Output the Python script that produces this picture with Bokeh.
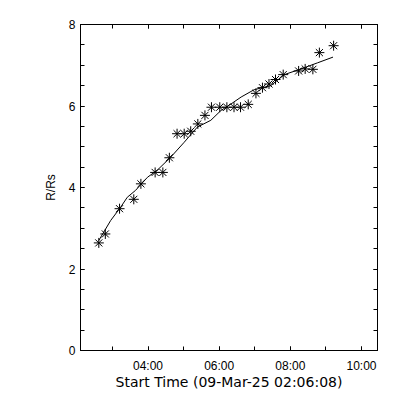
import pandas as pd
from bokeh.plotting import figure
from bokeh.models import (FixedTicker, DatetimeTickFormatter, LinearAxis, DatetimeAxis,
                          Range1d, CustomJSTickFormatter)
from bokeh.embed import file_html
from bokeh.resources import INLINE

DAY = "2025-03-09 "
point_times = ["02:37", "02:48", "03:12", "03:36", "03:48", "04:12", "04:25", "04:36",
               "04:49", "05:01", "05:12", "05:24", "05:36", "05:47", "06:01", "06:13",
               "06:25", "06:36", "06:49", "07:02", "07:13", "07:24", "07:35", "07:48",
               "08:14", "08:25", "08:38", "08:49", "09:13"]
point_values = [2.64, 2.86, 3.48, 3.71, 4.09, 4.37, 4.37, 4.73,
                5.32, 5.32, 5.38, 5.56, 5.77, 5.97, 5.97, 5.97,
                5.97, 5.97, 6.04, 6.31, 6.45, 6.54, 6.65, 6.77,
                6.86, 6.91, 6.90, 7.31, 7.48]

fit_times = ["02:37", "02:57", "03:14", "03:25", "03:39", "03:59", "04:16", "04:38",
             "05:01", "05:23", "05:46", "06:03", "06:20", "06:37", "06:59", "07:27",
             "07:50", "08:18", "08:46", "09:12"]
fit_values = [2.70, 3.19, 3.52, 3.76, 3.93, 4.25, 4.43, 4.74,
              5.11, 5.48, 5.65, 5.89, 6.05, 6.22, 6.40, 6.50,
              6.77, 6.91, 7.06, 7.20]

x_start = "02:06:08"
x_end = "10:27:00"
x_labeled_ticks = ["04:00", "06:00", "08:00", "10:00"]
x_minor_ticks = ["03:00", "05:00", "07:00", "09:00"]
y_major = [0, 2, 4, 6, 8]
y_minor = [0.5, 1, 1.5, 2.5, 3, 3.5, 4.5, 5, 5.5, 6.5, 7, 7.5]

def ts(t):
    return pd.Timestamp(DAY + t)

def ms(t):
    return ts(t).value / 1e6

px = [ts(t) for t in point_times]
fx = [ts(t) for t in fit_times]

p = figure(width=400, height=400, output_backend="svg", toolbar_location=None,
           x_axis_type="datetime",
           x_range=Range1d(ts(x_start), ts(x_end)), y_range=Range1d(0, 8),
           frame_width=297, frame_height=326,
           min_border_left=80, min_border_right=23, min_border_top=24, min_border_bottom=50)
p.background_fill_color = "white"
p.border_fill_color = "white"
p.outline_line_color = "black"
p.outline_line_width = 1
p.grid.visible = False

p.line(fx, fit_values, line_color="black", line_width=1)
p.scatter(px, point_values, marker="asterisk", size=10, line_color="black", line_width=1)

TICK_FONT = "Liberation Sans"
TICK_FS = "12px"

xt = FixedTicker(ticks=[ms(t) for t in x_labeled_ticks],
                 minor_ticks=[ms(t) for t in x_minor_ticks + x_labeled_ticks])
fmt = DatetimeTickFormatter(hours="%H:%M", minutes="%H:%M", hourmin="%H:%M",
                            days="%H:%M", minsec="%H:%M", seconds="%H:%M")
yt = FixedTicker(ticks=y_major, minor_ticks=y_minor + y_major)
blank = CustomJSTickFormatter(code="return ''")

def style(ax):
    ax.axis_line_color = "black"
    ax.major_tick_in = 4
    ax.major_tick_out = 0
    ax.minor_tick_in = 4
    ax.minor_tick_out = 0
    ax.major_tick_line_color = "black"
    ax.minor_tick_line_color = "black"
    ax.major_label_text_font = TICK_FONT
    ax.major_label_text_font_size = TICK_FS
    ax.major_label_text_color = "black"
    ax.axis_label_text_font_style = "normal"
    ax.axis_label_text_color = "black"

xa = p.xaxis[0]
xa.ticker = xt
xa.formatter = fmt
xa.axis_label = "Start Time (09-Mar-25 02:06:08)"
style(xa)
xa.axis_label_text_font = "DejaVu Sans"
xa.axis_label_text_font_size = "14px"
xa.major_label_standoff = 8
xa.axis_label_standoff = -2

ya = p.yaxis[0]
ya.ticker = yt
ya.axis_label = "R/Rs"
style(ya)
ya.axis_label_text_font = "Liberation Sans"
ya.axis_label_text_font_size = "12px"
ya.major_label_standoff = 5
ya.axis_label_standoff = 8

top = DatetimeAxis(ticker=xt, formatter=blank)
style(top)
top.major_label_standoff = 0
p.add_layout(top, "above")
right = LinearAxis(ticker=yt, formatter=blank)
style(right)
right.major_label_standoff = 0
p.add_layout(right, "right")

open("out.html", "w").write(file_html(p, INLINE))
